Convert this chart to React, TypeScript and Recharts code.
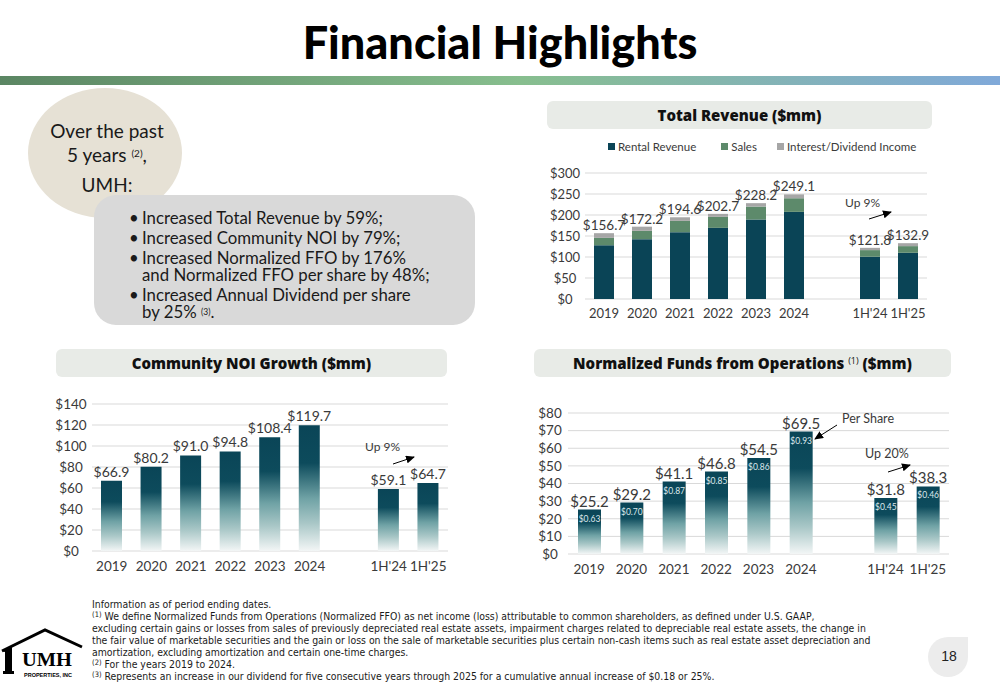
import React from 'react'
import { BarChart, Bar, XAxis, YAxis, CartesianGrid, Legend, LabelList } from 'recharts'

// categories (blank slot separates the full years from the half years)
const periods = ['2019', '2020', '2021', '2022', '2023', '2024', '', "1H'24", "1H'25"]

// Total Revenue ($mm), stacked
const revenueSeries = ['Rental Revenue', 'Sales', 'Interest/Dividend Income']
const rentalRevenue = [128.0, 142.5, 159.1, 169.4, 189.2, 207.4, null, 100.6, 110.0]
const salesRevenue = [17.5, 19.8, 26.9, 26.2, 30.9, 32.5, null, 15.8, 15.9]
const interestIncome = [11.2, 9.9, 8.6, 7.1, 8.1, 9.2, null, 5.4, 7.0]
const totalRevenue = [156.7, 172.2, 194.6, 202.7, 228.2, 249.1, null, 121.8, 132.9]
const revenueTicks = [0, 50, 100, 150, 200, 250, 300]

// Community NOI ($mm)
const communityNoi = [66.9, 80.2, 91.0, 94.8, 108.4, 119.7, null, 59.1, 64.7]
const noiTicks = [0, 20, 40, 60, 80, 100, 120, 140]

// Normalized FFO ($mm) and per share
const normalizedFfo = [25.2, 29.2, 41.1, 46.8, 54.5, 69.5, null, 31.8, 38.3]
const ffoPerShare = [0.63, 0.7, 0.87, 0.85, 0.86, 0.93, null, 0.45, 0.46]
const ffoTicks = [0, 10, 20, 30, 40, 50, 60, 70, 80]

const bullets = [
  ['Increased Total Revenue by 59%;'],
  ['Increased Community NOI by 79%;'],
  ['Increased Normalized FFO by 176%', 'and Normalized FFO per share by 48%;'],
  ['Increased Annual Dividend per share', 'by 25%'],
]

const revenueData = periods.map((p, i) => ({
  period: p,
  rental: rentalRevenue[i],
  sales: salesRevenue[i],
  interest: interestIncome[i],
  total: totalRevenue[i],
}))
const noiData = periods.map((p, i) => ({ period: p, noi: communityNoi[i] }))
const ffoData = periods.map((p, i) => ({ period: p, ffo: normalizedFfo[i], perShare: ffoPerShare[i] }))

const DARK = '#0a4456'
const GREEN = '#5d8a6b'
const GREY = '#a6a6a6'
const TEXT = '#3a3a3a'
const FONT = 'Lato, "Noto Sans", sans-serif'
const HEAD = '"Open Sans", Lato, sans-serif'

const money = (v: number, d = 1) => '$' + v.toFixed(d)

const yTick = (offset: number, size: number) => (p: any) => (
  <text x={p.x - offset} y={p.y} dy="0.36em" textAnchor="middle" fontSize={size} fill={TEXT} fontFamily={FONT}>
    {'$' + p.payload.value}
  </text>
)

const topLabel = (size: number, gap: number) => (p: any) => {
  if (p.value == null || p.value === '') return null
  return (
    <text x={p.x + p.width / 2} y={p.y - gap} textAnchor="middle" fontSize={size} fill={TEXT} fontFamily={FONT}>
      {money(Number(p.value))}
    </text>
  )
}

const perShareLabel = (p: any) => {
  if (p.value == null || p.value === '') return null
  return (
    <text x={p.x + p.width / 2} y={p.y + 12} textAnchor="middle" fontSize={8.5} fill="#dce8ec" fontFamily={FONT}>
      {money(Number(p.value), 2)}
    </text>
  )
}

const legendGaps = [25, 20, 0]
const RevenueLegend = (props: any) => {
  const items = [...(props.payload || [])].sort(
    (a: any, b: any) => revenueSeries.indexOf(a.value) - revenueSeries.indexOf(b.value)
  )
  return (
    <div style={{ display: 'flex', paddingLeft: 63, height: 34, fontSize: 11.5, color: TEXT, fontFamily: FONT }}>
      {items.map((item: any, i: number) => (
        <span key={i} style={{ display: 'flex', alignItems: 'center', height: 14, marginRight: legendGaps[i] }}>
          <span style={{ width: 7, height: 7, background: item.color, marginRight: 3 }} />
          {item.value}
        </span>
      ))}
    </div>
  )
}

const Gradient = ({ id }: { id: string }) => (
  <defs>
    <linearGradient id={id} x1="0" y1="0" x2="0" y2="1">
      <stop offset="0%" stopColor="#0a4557" />
      <stop offset="30%" stopColor="#0d4b5c" />
      <stop offset="58%" stopColor="#6fa2a5" />
      <stop offset="78%" stopColor="#a9c7c7" />
      <stop offset="100%" stopColor="#f3f6f6" />
    </linearGradient>
  </defs>
)

const TitleBox = ({ left, top, width, children }: any) => (
  <div
    style={{
      position: 'absolute', left, top, width, height: 28, background: '#e8ebe7', borderRadius: 6,
      display: 'flex', alignItems: 'center', justifyContent: 'center',
      fontWeight: 800, fontSize: 15, color: '#111', fontFamily: HEAD,
    }}
  >
    {children}
  </div>
)

const footnotes: [string, string][] = [
  ['', 'Information as of period ending dates.'],
  ['(1)', ' We define Normalized Funds from Operations (Normalized FFO) as net income (loss) attributable to common shareholders, as defined under U.S. GAAP,'],
  ['', 'excluding certain gains or losses from sales of previously depreciated real estate assets, impairment charges related to depreciable real estate assets, the change in'],
  ['', 'the fair value of marketable securities and the gain or loss on the sale of marketable securities plus certain non-cash items such as real estate asset depreciation and'],
  ['', 'amortization, excluding amortization and certain one-time charges.'],
  ['(2)', ' For the years 2019 to 2024.'],
  ['(3)', ' Represents an increase in our dividend for five consecutive years through 2025 for a cumulative annual increase of $0.18 or 25%.'],
]

export default function App() {
  return (
    <div style={{ position: 'absolute', left: 0, top: 0, width: 1000, height: 685, background: '#fff', overflow: 'hidden', fontFamily: FONT, color: '#1a1a1a' }}>
      {/* heading */}
      <div style={{ position: 'absolute', left: 0, top: 14, width: 1000, textAlign: 'center', fontSize: 45, fontWeight: 900, color: '#000', lineHeight: '56px' }}>
        Financial Highlights
      </div>
      <div style={{ position: 'absolute', left: 0, top: 76, width: 1000, height: 9, background: 'linear-gradient(90deg, #5b8663 0%, #87be8e 52%, #80a9d9 100%)' }} />

      {/* left summary */}
      <div style={{ position: 'absolute', left: 28, top: 88, width: 154, height: 130, borderRadius: '50%', background: '#e6e1d5' }} />
      <div style={{ position: 'absolute', left: 30, top: 119, width: 154, textAlign: 'center', fontSize: 19, lineHeight: '24px', color: '#1a1a1a' }}>
        <div>Over the past</div>
        <div>5 years <sup style={{ fontSize: 10, verticalAlign: 'top', position: 'relative', top: -2 }}>(2)</sup>,</div>
        <div style={{ marginTop: 6 }}>UMH:</div>
      </div>
      <div style={{ position: 'absolute', left: 94, top: 195, width: 381, height: 130, borderRadius: 22, background: '#d9d9d9' }} />
      <div style={{ position: 'absolute', left: 142, top: 209, fontSize: 16.8, lineHeight: '17px', color: '#1a1a1a' }}>
        {bullets.map((lines, i) => (
          <div key={i} style={{ position: 'relative', marginBottom: 3 }}>
            <span style={{ position: 'absolute', left: -13, top: 0 }}>•</span>
            {lines.map((l, j) => (
              <div key={j}>
                {l}
                {i === 3 && j === 1 && (
                  <>
                    {' '}<span style={{ fontSize: 8.5, position: 'relative', top: -3 }}>(3)</span>.
                  </>
                )}
              </div>
            ))}
          </div>
        ))}
      </div>

      {/* Total Revenue */}
      <TitleBox left={547} top={101} width={385}>Total Revenue ($mm)</TitleBox>
      <div style={{ position: 'absolute', left: 540, top: 130 }}>
        <BarChart width={400} height={200} data={revenueData} margin={{ top: 9, right: 13, left: 5, bottom: 7 }}>
          <CartesianGrid vertical={false} stroke="#d9d9d9" />
          <XAxis dataKey="period" axisLine={false} tickLine={false} tickMargin={4} height={24} interval={0}
            tick={{ fontSize: 13, fill: TEXT, fontFamily: FONT }} />
          <YAxis width={40} domain={[0, 300]} ticks={revenueTicks} interval={0} axisLine={false} tickLine={false} tick={yTick(12, 13)} />
          <Legend verticalAlign="top" content={RevenueLegend} />
          <Bar dataKey="rental" name={revenueSeries[0]} stackId="r" fill={DARK} barSize={20} isAnimationActive={false} />
          <Bar dataKey="sales" name={revenueSeries[1]} stackId="r" fill={GREEN} barSize={20} isAnimationActive={false} />
          <Bar dataKey="interest" name={revenueSeries[2]} stackId="r" fill={GREY} barSize={20} isAnimationActive={false}>
            <LabelList dataKey="total" content={topLabel(13.5, 3)} />
          </Bar>
        </BarChart>
      </div>

      {/* Community NOI */}
      <TitleBox left={56} top={349} width={391}>Community NOI Growth ($mm)</TitleBox>
      <div style={{ position: 'absolute', left: 40, top: 390 }}>
        <BarChart width={420} height={190} data={noiData} margin={{ top: 14, right: 12, left: 12, bottom: 5 }}>
          <Gradient id="noiGrad" />
          <CartesianGrid vertical={false} stroke="#d9d9d9" />
          <XAxis dataKey="period" axisLine={false} tickLine={false} tickMargin={4} height={24} interval={0}
            tick={{ fontSize: 13.5, fill: TEXT, fontFamily: FONT }} />
          <YAxis width={40} domain={[0, 140]} ticks={noiTicks} interval={0} axisLine={false} tickLine={false} tick={yTick(13, 13.5)} />
          <Bar dataKey="noi" fill="url(#noiGrad)" barSize={21} isAnimationActive={false}>
            <LabelList dataKey="noi" content={topLabel(14, 4)} />
          </Bar>
        </BarChart>
      </div>

      {/* Normalized FFO */}
      <TitleBox left={534} top={349} width={417}>
        Normalized Funds from Operations&nbsp;<span style={{ fontWeight: 400, fontSize: 9, position: 'relative', top: -3 }}>(1)</span>&nbsp;($mm)
      </TitleBox>
      <div style={{ position: 'absolute', left: 530, top: 390 }}>
        <BarChart width={430} height={190} data={ffoData} margin={{ top: 23, right: 11, left: 0, bottom: 4 }}>
          <Gradient id="ffoGrad" />
          <CartesianGrid vertical={false} stroke="#d9d9d9" />
          <XAxis dataKey="period" axisLine={false} tickLine={false} tickMargin={4} height={22} interval={0}
            tick={{ fontSize: 13.5, fill: TEXT, fontFamily: FONT }} />
          <YAxis width={38} domain={[0, 80]} ticks={ffoTicks} interval={0} axisLine={false} tickLine={false} tick={yTick(10, 13.5)} />
          <Bar dataKey="ffo" fill="url(#ffoGrad)" barSize={23} isAnimationActive={false}>
            <LabelList dataKey="ffo" content={topLabel(15, 3)} />
            <LabelList dataKey="perShare" content={perShareLabel} />
          </Bar>
        </BarChart>
      </div>

      {/* annotations */}
      <svg width={1000} height={685} style={{ position: 'absolute', left: 0, top: 0, pointerEvents: 'none' }}>
        <defs>
          <marker id="ah" markerUnits="userSpaceOnUse" markerWidth={9} markerHeight={8} refX={8} refY={4} orient="auto">
            <path d="M0,0 L9,4 L0,8 z" fill="#000" />
          </marker>
        </defs>
        <g fontFamily={FONT} fontSize={12} fill={TEXT}>
          <text x={845} y={207}>Up 9%</text>
          <text x={365} y={451}>Up 9%</text>
          <text x={842} y={423} fontSize={12.5}>Per Share</text>
          <text x={865} y={458} fontSize={12.5}>Up 20%</text>
        </g>
        <g stroke="#000" strokeWidth={1}>
          <line x1={869} y1={219} x2={891} y2={212} markerEnd="url(#ah)" />
          <line x1={393} y1={464} x2={414} y2={457} markerEnd="url(#ah)" />
          <line x1={837} y1={425} x2={815} y2={439} markerEnd="url(#ah)" />
          <line x1={888} y1={472} x2={910} y2={465} markerEnd="url(#ah)" />
        </g>

        {/* logo */}
        <g>
          <polyline points="2,651 45,630 82,647" fill="none" stroke="#000" strokeWidth={3} />
          <polygon points="2,651 12,646 12,673 5,673 5,652" fill="#000" />
          <rect x={3} y={671} width={11} height={3} fill="#000" />
          <text x={22} y={666} fontFamily='"Liberation Serif", serif' fontWeight={700} fontSize={19} fill="#000" textLength={50} lengthAdjust="spacingAndGlyphs">UMH</text>
          <text x={24} y={677} fontFamily='"Liberation Sans Narrow", sans-serif' fontWeight={700} fontSize={6} fill="#000" textLength={48} lengthAdjust="spacingAndGlyphs">PROPERTIES, INC</text>
        </g>
        {/* page number */}
        <path d="M928,657 A20,20 0 0 1 948,637 L968,637 L968,657 A20,20 0 0 1 948,677 A20,20 0 0 1 928,657 Z" fill="#ececec" />
        <text x={949} y={660.5} textAnchor="middle" fontFamily='"Liberation Sans", sans-serif' fontSize={14} fill="#222">18</text>
      </svg>

      {/* footnotes */}
      <div style={{ position: 'absolute', left: 92, top: 599, fontFamily: '"Liberation Sans Narrow", "DejaVu Sans Condensed", sans-serif', fontSize: 10.4, lineHeight: '11.7px', color: '#1a1a1a', whiteSpace: 'nowrap' }}>
        {footnotes.map(([sup, txt], i) => (
          <div key={i}>
            {sup && <span style={{ fontSize: 7.5, position: 'relative', top: -3 }}>{sup}</span>}
            {txt}
          </div>
        ))}
      </div>
    </div>
  )
}
